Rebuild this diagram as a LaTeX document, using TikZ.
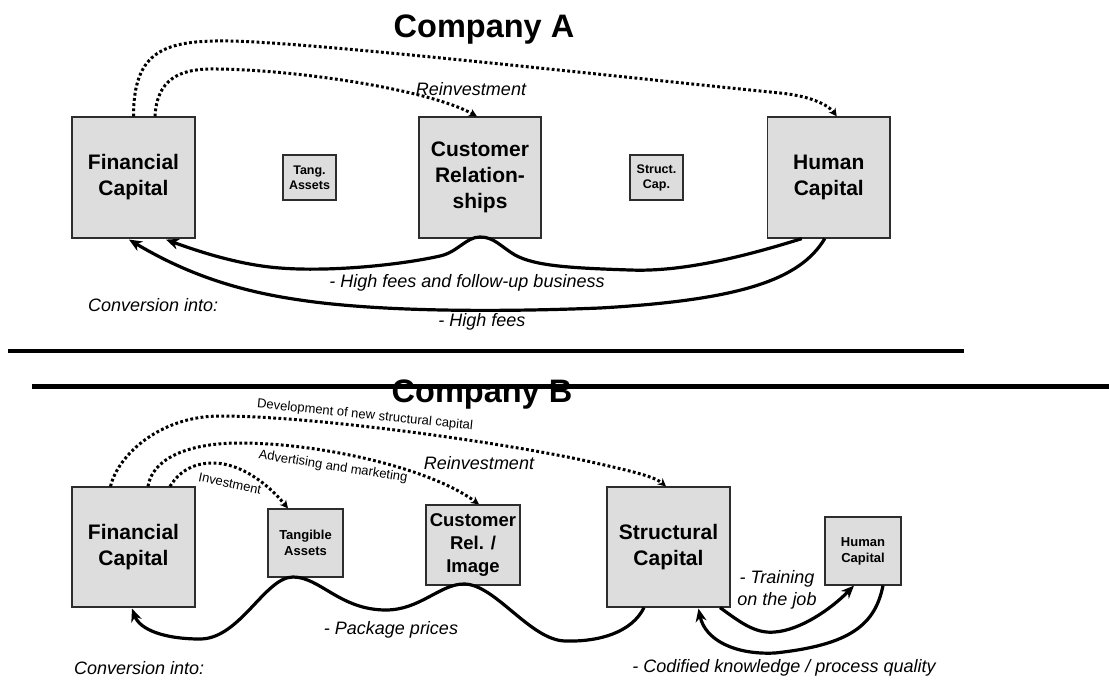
\documentclass[tikz,border=0pt]{standalone}
\usepackage{fontspec}
\setmainfont{Liberation Sans}
\usetikzlibrary{arrows.meta,calc}
\definecolor{boxgray}{RGB}{221,221,221}
\definecolor{edgegray}{RGB}{45,45,45}
\tikzset{
  boxbase/.style={draw=edgegray, line width=1.2pt, fill=boxgray, inner sep=0pt, align=center},
  bigbox/.style={boxbase, font=\fontsize{21}{26}\selectfont\bfseries},
  midbox/.style={boxbase, font=\fontsize{18.5}{23}\selectfont\bfseries},
  smallbox/.style={boxbase, font=\fontsize{12.5}{15}\selectfont\bfseries},
  smallboxb/.style={boxbase, font=\fontsize{13}{16}\selectfont\bfseries},
  flow/.style={line width=3.2pt, -{Stealth[length=13pt,width=11pt]}},
  dotflow/.style={line width=3pt, dash pattern=on 2.8pt off 2.4pt, -{Stealth[length=8pt,width=8pt]}},
  lbl/.style={font=\fontsize{18}{22}\selectfont\itshape, inner sep=0pt},
  smalllbl/.style={font=\fontsize{13}{15}\selectfont, inner sep=0pt},
  titletext/.style={font=\fontsize{32.5}{36}\selectfont\bfseries, inner sep=0pt},
  sepline/.style={line width=4.2pt}
}
\begin{document}
\begin{tikzpicture}[x=1pt,y=-1pt]
\useasboundingbox (0,0) rectangle (1109,680);

% ---------- Company A ----------
\node[titletext, anchor=base] (titleA) at (484,37) {Company A};

\node[bigbox, minimum width=123pt, minimum height=121pt] (fA) at (133.5,177.5) {Financial\\Capital};
\node[smallbox, minimum width=53pt, minimum height=45pt] (tA) at (309.5,177.5) {Tang.\\Assets};
\node[bigbox, minimum width=122pt, minimum height=121pt] (cA) at (480,177.5) {Customer\\Relation-\\ships};
\node[smallbox, minimum width=53pt, minimum height=45pt] (sA) at (656.5,177.5) {Struct.\\Cap.};
\node[bigbox, minimum width=122.5pt, minimum height=121pt] (hA) at (828.75,177.5) {Human\\Capital};

% dotted reinvestment arrows
\draw[dotflow] (fA.north) .. controls (133.5,50) and (165,40) .. (230,41)
  .. controls (320,43) and (600,75) .. (780,93)
  .. controls (815,96.5) and (830,107) .. ($(hA.north)+(8,0)$);
\draw[dotflow] ($(fA.north)+(21.5,0)$) .. controls (157,80) and (178,68) .. (217,69)
  .. controls (300,70) and (430,90) .. ($(cA.north)+(-3,0)$);
\node[lbl] (reinvA) at (471,89) {Reinvestment};

% solid conversion arrows
\draw[flow] ($(hA.south)+(-27,0)$) .. controls (740,258) and (680,272) .. (630,270)
  .. controls (570,268) and (535,266) .. (515,255)
  .. controls (500,246) and (494,237) .. (480,237)
  .. controls (466,237) and (458,252) .. (440,256)
  .. controls (400,265) and (330,272) .. (280,268)
  .. controls (240,265) and (200,252) .. ($(fA.south)+(32.5,1)$);
\draw[flow] ($(hA.south)+(-4,0)$) .. controls (800,280) and (740,300) .. (600,308)
  .. controls (500,312) and (380,312) .. (300,300)
  .. controls (230,290) and (180,270) .. ($(fA.south)+(-4.5,1)$);

\node[lbl] (feesA1) at (467,283) {- High fees and follow-up business};
\node[lbl] (feesA2) at (482,322) {- High fees};
\node[lbl, anchor=west] (convA) at (88,305) {Conversion into:};

% ---------- separators ----------
\coordinate (s1a) at (8,351);
\coordinate (s1b) at (964,351);
\coordinate (s2a) at (32,386.5);
\coordinate (s2b) at (1109,386.5);

% ---------- Company B ----------
\node[titletext, anchor=base] (titleB) at (482,402) {Company B};
\draw[sepline] (s1a) -- (s1b);
\draw[sepline, line width=5.5pt] (s2a) -- (s2b);

\node[bigbox, minimum width=123pt, minimum height=120pt] (fB) at (133.5,547) {Financial\\Capital};
\node[smallboxb, minimum width=75pt, minimum height=68pt] (tB) at (305.5,543) {Tangible\\Assets};
\node[midbox, minimum width=94pt, minimum height=80pt] (cB) at (473,545) {Customer\\Rel. /\\Image};
\node[bigbox, minimum width=123pt, minimum height=120pt] (sB) at (668.5,547) {Structural\\Capital};
\node[smallboxb, minimum width=76pt, minimum height=68pt] (hB) at (863,551) {Human\\Capital};

% dotted investment arrows
\draw[dotflow] ($(fB.north)+(-23,0)$) .. controls (118,455) and (160,416) .. (220,416)
  .. controls (320,416) and (520,445) .. (600,464)
  .. controls (635,472) and (655,477) .. ($(sB.north)+(-2.5,0)$);
\draw[dotflow] ($(fB.north)+(14.5,0)$) .. controls (152,460) and (185,443) .. (240,443)
  .. controls (320,443) and (430,468) .. ($(cB.north)+(6,0)$);
\draw[dotflow] ($(fB.north)+(36.5,0)$) .. controls (180,470) and (195,463) .. (213,463)
  .. controls (235,463) and (262,477) .. ($(tB.north)+(-17.5,0)$);

\node[smalllbl, rotate=-5.8] (devB) at (365,415.5) {Development of new structural capital};
\node[smalllbl, rotate=-9] (advB) at (333,467) {Advertising and marketing};
\node[smalllbl, rotate=-12] (invB) at (230,483.5) {Investment};
\node[lbl] (reinvB) at (479,463) {Reinvestment};

% solid conversion arrows
\draw[flow] ($(sB.south)+(-24.5,0)$) .. controls (632,632) and (600,642) .. (565,641)
  .. controls (530,640) and (495,584) .. (464,584)
  .. controls (440,584) and (420,610) .. (386,610)
  .. controls (340,610) and (320,577) .. (293,577)
  .. controls (265,577) and (240,639) .. (200,639)
  .. controls (165,639) and (140,630) .. ($(fB.south)+(-1.5,1)$);
\draw[flow] ($(sB.south)+(51.5,0)$) .. controls (740,622) and (755,634) .. (775,632)
  .. controls (800,630) and (830,610) .. ($(hB.south)+(-9,0)$);
\draw[flow] ($(hB.south)+(20,0)$) .. controls (875,625) and (850,645) .. (775,653)
  .. controls (735,655) and (705,640) .. ($(sB.south)+(30,1)$);

\node[lbl] (pkgB) at (391,630) {- Package prices};
\node[lbl, align=center] (trainB) at (777,590) {- Training\\on the job};
\node[lbl] (codB) at (784,668) {- Codified knowledge / process quality};
\node[lbl, anchor=west] (convB) at (74,668) {Conversion into:};
\end{tikzpicture}
\end{document}
